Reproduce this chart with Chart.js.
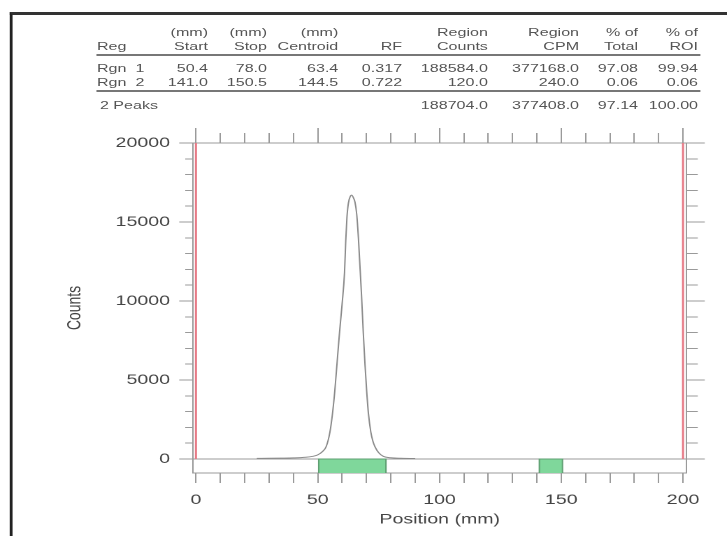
<!DOCTYPE html>
<html>
<head>
<meta charset="utf-8">
<script src="https://cdn.jsdelivr.net/npm/chart.js@4.4.0/dist/chart.umd.min.js"></script>
<style>
  html, body { margin: 0; padding: 0; background: #fff; overflow: hidden; }
  /* the scan is stretched sideways, so draw narrow and stretch the whole page */
  #page { position: absolute; left: 0; top: 0; width: 520px; height: 536px;
          transform: scaleX(1.398); transform-origin: 0 0;
          font-family: "Liberation Sans", Arial, sans-serif; }
  #frame { position: absolute; left: 7px; top: 12px; width: 530px; height: 540px;
           border-left: 2px solid #222; border-top: 3px solid #333; }
  #chart { position: absolute; left: 0; top: 0; }
  .cell { position: absolute; font-size: 11.5px; line-height: 14px; color: #555; white-space: pre; }
  .rule { position: absolute; height: 2px; background: #777; }
</style>
</head>
<body>
<div id="page">
  <div id="frame"></div>
  <div id="table"></div>
  <canvas id="chart" width="520" height="536"></canvas>
</div>
<script>
// region table
const regNames = ["Rgn  1", "Rgn  2"];
const regStart = [50.4, 141.0];
const regStop = [78.0, 150.5];
const regCentroid = [63.4, 144.5];
const regRF = [0.317, 0.722];
const regCounts = [188584.0, 120.0];
const regCPM = [377168.0, 240.0];
const regPctTotal = [97.08, 0.06];
const regPctROI = [99.94, 0.06];
const totalLabel = "2 Peaks";
const totalCounts = 188704.0;
const totalCPM = 377408.0;
const totalPctTotal = 97.14;
const totalPctROI = 100.00;

// scan trace
const positionMm = [25, 30, 35, 40, 45, 48, 50, 52, 53.5, 55, 56, 57, 58, 59, 60, 61, 61.5, 62, 62.6, 63.3, 63.9,
  64.6, 65.3, 66, 66.7, 67.4, 68, 68.7, 69.4, 70.1, 70.8, 71.8, 72.7, 73.5, 75, 77, 80, 84, 90];
const counts = [40, 45, 55, 70, 110, 170, 260, 480, 800, 1700, 2800, 4300, 6200, 8100, 9800, 11800, 13800, 15300, 16200, 16600, 16700,
  16550, 16250, 15500, 14000, 12000, 10300, 8000, 6000, 4300, 2900, 1700, 1100, 780, 400, 160, 80, 45, 30];

// origin / front markers
const markerMm = [0, 200];

// ticks
const xMinorTicks = [0, 10, 20, 30, 40, 50, 60, 70, 80, 90, 100, 110, 120, 130, 140, 150, 160, 170, 180, 190, 200];
const xLabelValues = [0, 50, 100, 150, 200];
const yMinorTicks = [0, 1000, 2000, 3000, 4000, 5000, 6000, 7000, 8000, 9000, 10000,
  11000, 12000, 13000, 14000, 15000, 16000, 17000, 18000, 19000, 20000];
const yLabelValues = [0, 5000, 10000, 15000, 20000];

const yTop = 20000;
const yFloor = -886;

// ---- table (html) ----
const colRight = [null, 148.8, 191, 242, 287.6, 349, 414.2, 456.4, 499.3];
const tableEl = document.getElementById("table");

function cell(text, col, yCenter, leftX) {
  const d = document.createElement("div");
  d.className = "cell";
  d.textContent = text;
  d.style.top = (yCenter - 7) + "px";
  if (col === 0) d.style.left = leftX + "px";
  else d.style.right = (520 - colRight[col]) + "px";
  tableEl.appendChild(d);
}
function rule(y) {
  const d = document.createElement("div");
  d.className = "rule";
  d.style.left = "69.4px";
  d.style.width = (500.7 - 69.4) + "px";
  d.style.top = (y - 1) + "px";
  tableEl.appendChild(d);
}

const head1 = ["", "(mm)", "(mm)", "(mm)", "", "Region", "Region", "% of", "% of"];
const head2 = ["Reg", "Start", "Stop", "Centroid", "RF", "Counts", "CPM", "Total", "ROI"];
head1.forEach((t, c) => { if (t) cell(t, c, 32, 69.4); });
head2.forEach((t, c) => cell(t, c, 46, 69.4));
rule(55);
regNames.forEach((name, i) => {
  const y = 68 + i * 14;
  const row = [name, regStart[i].toFixed(1), regStop[i].toFixed(1), regCentroid[i].toFixed(1),
    regRF[i].toFixed(3), regCounts[i].toFixed(1), regCPM[i].toFixed(1),
    regPctTotal[i].toFixed(2), regPctROI[i].toFixed(2)];
  row.forEach((t, c) => cell(t, c, y, 69.4));
});
rule(91);
cell(totalLabel, 0, 105, 71.5);
cell(totalCounts.toFixed(1), 5, 105);
cell(totalCPM.toFixed(1), 6, 105);
cell(totalPctTotal.toFixed(2), 7, 105);
cell(totalPctROI.toFixed(2), 8, 105);

// ---- chart ----
const axisGrey = "#9a9a9a";
const textGrey = "#444";
const tickFont = { family: '"Liberation Sans", Arial, sans-serif', size: 14 };

function setTicks(values) {
  return (scale) => { scale.ticks = values.map((v) => ({ value: v })); };
}

const datasets = [];
datasets.push({
  data: positionMm.map((x, i) => ({ x: x, y: counts[i] })),
  borderColor: "#8a8a8a",
  borderWidth: 1,
  pointRadius: 0,
  cubicInterpolationMode: "monotone",
  fill: false,
});
regStart.forEach((s, i) => {
  datasets.push({
    data: [{ x: s, y: yFloor }, { x: s, y: 0 }, { x: regStop[i], y: 0 }, { x: regStop[i], y: yFloor }],
    borderColor: "#5f9f72",
    borderWidth: 1,
    backgroundColor: "#7fd79b",
    pointRadius: 0,
    tension: 0,
    fill: { value: yFloor },
  });
});
markerMm.forEach((m) => {
  datasets.push({
    data: [{ x: m, y: 0 }, { x: m, y: yTop }],
    borderColor: "#e67a86",
    borderWidth: 1.5,
    pointRadius: 0,
    fill: false,
  });
});

new Chart(document.getElementById("chart"), {
  type: "line",
  data: { datasets: datasets },
  options: {
    responsive: false,
    devicePixelRatio: 2,
    animation: false,
    layout: { padding: { left: 45, right: 15.9, top: 128, bottom: 0 } },
    plugins: { legend: { display: false }, tooltip: { enabled: false } },
    scales: {
      x: {
        type: "linear", position: "bottom", min: -1.3, max: 201.5,
        afterBuildTicks: setTicks(xMinorTicks),
        grid: { drawOnChartArea: false, tickLength: 10, tickColor: axisGrey },
        border: { color: axisGrey, width: 1 },
        ticks: {
          autoSkip: false, maxRotation: 0, padding: 8.6, color: textGrey, font: tickFont,
          callback: (v) => (xLabelValues.includes(v) ? String(v) : ""),
        },
        title: { display: true, text: "Position (mm)", color: textGrey, font: tickFont, padding: { top: 0, bottom: 8 } },
        afterFit: (s) => { s.height = 63; },
      },
      xTop: {
        type: "linear", position: "top", min: -1.3, max: 201.5,
        afterBuildTicks: setTicks(xMinorTicks),
        grid: { drawOnChartArea: false, tickLength: 10, tickColor: axisGrey },
        border: { color: axisGrey, width: 1 },
        ticks: { display: false },
        afterFit: (s) => { s.height = 10; },
      },
      xTopMajor: {
        type: "linear", position: "top", weight: 1, min: -1.3, max: 201.5,
        afterBuildTicks: setTicks(xLabelValues),
        grid: { drawOnChartArea: false, tickLength: 5, tickColor: axisGrey },
        border: { display: false },
        ticks: { display: false },
        afterFit: (s) => { s.height = 5; },
      },
      y: {
        type: "linear", position: "left", min: yFloor, max: yTop,
        afterBuildTicks: setTicks(yMinorTicks),
        grid: {
          color: (c) => (c.tick && c.tick.value === 0 ? axisGrey : "rgba(0,0,0,0)"),
          tickColor: axisGrey, tickLength: 5.4,
        },
        border: { color: axisGrey, width: 1 },
        ticks: { display: false },
        afterFit: (s) => { s.width = 5.4; },
      },
      yMajor: {
        type: "linear", position: "left", weight: 1, min: yFloor, max: yTop,
        afterBuildTicks: setTicks(yLabelValues),
        grid: { drawOnChartArea: false, tickLength: 4.3, tickColor: axisGrey },
        border: { display: false },
        ticks: { padding: 6.6, color: textGrey, font: tickFont, callback: (v) => String(v) },
        title: { display: true, text: "Counts", color: textGrey, font: tickFont, padding: 0 },
        afterFit: (s) => { s.width = 87.5; },
      },
      yRight: {
        type: "linear", position: "right", min: yFloor, max: yTop,
        afterBuildTicks: setTicks(yMinorTicks),
        grid: { drawOnChartArea: false, tickLength: 7.9, tickColor: axisGrey },
        border: { color: axisGrey, width: 1 },
        ticks: { display: false },
        afterFit: (s) => { s.width = 7.9; },
      },
      yRightMajor: {
        type: "linear", position: "right", weight: 1, min: yFloor, max: yTop,
        afterBuildTicks: setTicks(yLabelValues),
        grid: { drawOnChartArea: false, tickLength: 5, tickColor: axisGrey },
        border: { display: false },
        ticks: { display: false },
        afterFit: (s) => { s.width = 5; },
      },
    },
  },
});
</script>
</body>
</html>
